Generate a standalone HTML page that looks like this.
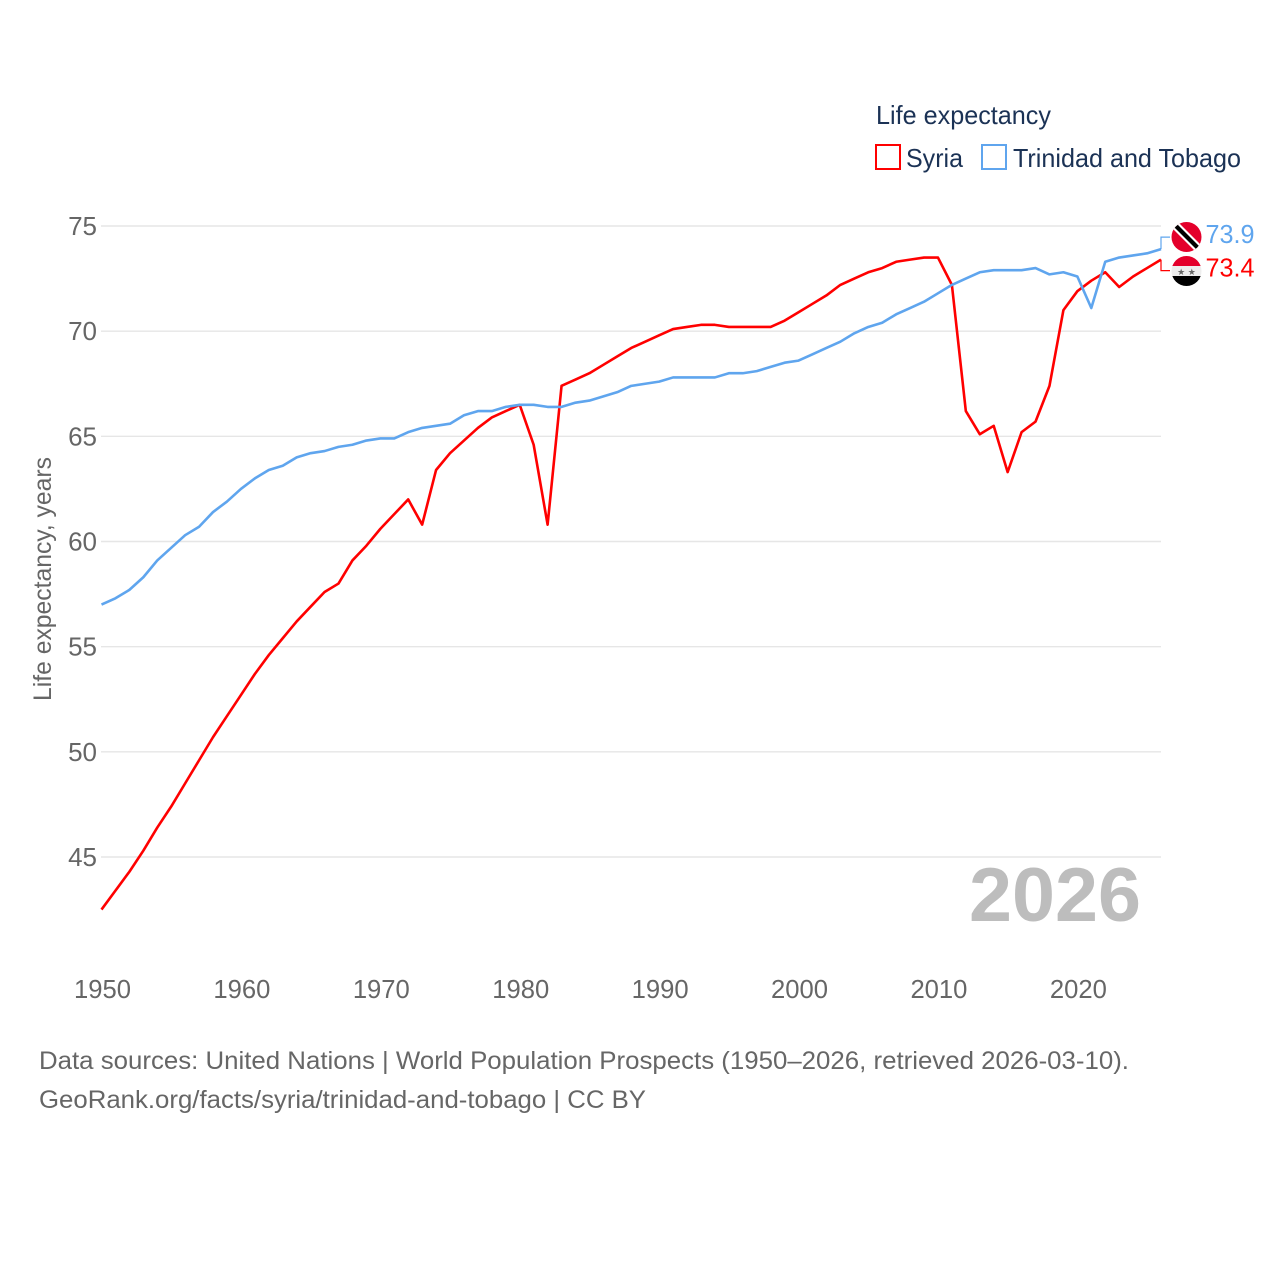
<!DOCTYPE html>
<html lang="en">
<head>
<meta charset="utf-8">
<title>Life expectancy: Syria and Trinidad and Tobago</title>
<style>
html,body{margin:0;padding:0;background:#fff;width:1280px;height:1280px;overflow:hidden}
svg{display:block}
text{font-family:"Liberation Sans",sans-serif}
</style>
</head>
<body>
<svg id="chart" xmlns="http://www.w3.org/2000/svg" width="1280" height="1280" viewBox="0 0 1280 1280">
  <defs>
    <clipPath id="tt-clip"><circle cx="1186.5" cy="237" r="15"/></clipPath>
    <clipPath id="sy-clip"><circle cx="1186.5" cy="271" r="15"/></clipPath>
  </defs>
  <g id="grid"></g>
  <g id="ytick-labels"></g>
  <g id="xtick-labels"></g>
  <text transform="translate(51,701) rotate(-90)" font-size="25" fill="#666" textLength="244" lengthAdjust="spacingAndGlyphs">Life expectancy, years</text>
  <text x="969" y="921" font-size="76" font-weight="bold" fill="#bdbdbd" textLength="172" lengthAdjust="spacingAndGlyphs">2026</text>
  <g id="series"></g>
  <g>
    <text x="876" y="124" font-size="26" fill="#1b3255" textLength="175" lengthAdjust="spacingAndGlyphs">Life expectancy</text>
    <g>
      <rect x="876" y="145" width="24" height="24" fill="#fff" stroke="#ff0000" stroke-width="2"/>
      <text x="906" y="167" font-size="26" fill="#1b3255" textLength="57" lengthAdjust="spacingAndGlyphs">Syria</text>
    </g>
    <g>
      <rect x="982" y="145" width="24" height="24" fill="#fff" stroke="#5fa5ee" stroke-width="2"/>
      <text x="1013" y="167" font-size="26" fill="#1b3255" textLength="228" lengthAdjust="spacingAndGlyphs">Trinidad and Tobago</text>
    </g>
  </g>
  <g clip-path="url(#tt-clip)">
    <rect x="1171" y="222" width="31" height="30" fill="#e4002b"/>
    <polygon points="1170,226 1176,220 1204,248 1198,254" fill="#fff"/>
    <polygon points="1172,225 1175,222 1202,249 1199,252" fill="#000"/>
  </g>
  <g clip-path="url(#sy-clip)">
    <rect x="1171" y="256" width="31" height="10" fill="#e4002b"/>
    <rect x="1171" y="266" width="31" height="10" fill="#eeeeee"/>
    <rect x="1171" y="276" width="31" height="10" fill="#000"/>
    <text x="1186.5" y="275" font-size="9" text-anchor="middle" fill="#666">★ ★</text>
  </g>
  <g id="end-labels"></g>
  <text x="39" y="1069" font-size="25" fill="#666" textLength="1090" lengthAdjust="spacingAndGlyphs">Data sources: United Nations | World Population Prospects (1950–2026, retrieved 2026-03-10).</text>
  <text x="39" y="1108" font-size="25" fill="#666" textLength="607" lengthAdjust="spacingAndGlyphs">GeoRank.org/facts/syria/trinidad-and-tobago | CC BY</text>
</svg>
<script>
const startYear = 1950;
const syriaValues = [42.5,43.4,44.3,45.3,46.4,47.4,48.5,49.6,50.7,51.7,52.7,53.7,54.6,55.4,56.2,56.9,57.6,58.0,59.1,59.8,60.6,61.3,62.0,60.8,63.4,64.2,64.8,65.4,65.9,66.2,66.5,64.6,60.8,67.4,67.7,68.0,68.4,68.8,69.2,69.5,69.8,70.1,70.2,70.3,70.3,70.2,70.2,70.2,70.2,70.5,70.9,71.3,71.7,72.2,72.5,72.8,73.0,73.3,73.4,73.5,73.5,72.2,66.2,65.1,65.5,63.3,65.2,65.7,67.4,71.0,71.9,72.4,72.8,72.1,72.6,73.0,73.4];
const trinidadValues = [57.0,57.3,57.7,58.3,59.1,59.7,60.3,60.7,61.4,61.9,62.5,63.0,63.4,63.6,64.0,64.2,64.3,64.5,64.6,64.8,64.9,64.9,65.2,65.4,65.5,65.6,66.0,66.2,66.2,66.4,66.5,66.5,66.4,66.4,66.6,66.7,66.9,67.1,67.4,67.5,67.6,67.8,67.8,67.8,67.8,68.0,68.0,68.1,68.3,68.5,68.6,68.9,69.2,69.5,69.9,70.2,70.4,70.8,71.1,71.4,71.8,72.2,72.5,72.8,72.9,72.9,72.9,73.0,72.7,72.8,72.6,71.1,73.3,73.5,73.6,73.7,73.9];
const yTickLabels = [45,50,55,60,65,70,75];
const xTickLabels = [1950,1960,1970,1980,1990,2000,2010,2020];

const NS = 'http://www.w3.org/2000/svg';
const xScale = year => 101.5 + (year - 1950) * (1161 - 101.5) / 76;
const yScale = value => 226 + (75 - value) * (857 - 226) / 30;
function make(tag, attrs, parent, content) {
  const el = document.createElementNS(NS, tag);
  for (const k in attrs) el.setAttribute(k, attrs[k]);
  if (content !== undefined) el.textContent = content;
  parent.appendChild(el);
  return el;
}
const grid = document.getElementById('grid');
const yLabels = document.getElementById('ytick-labels');
const xLabels = document.getElementById('xtick-labels');
const seriesGroup = document.getElementById('series');
const endLabels = document.getElementById('end-labels');

yTickLabels.forEach(tick => {
  const line = make('line', {x1:101, x2:1161, y1:yScale(tick), y2:yScale(tick), stroke:'#e6e6e6', 'stroke-width':1.4}, grid);
  
  
  const label = make('text', {x:97, y:yScale(tick) + 9, 'font-size':26, 'text-anchor':'end', fill:'#666'}, yLabels, String(tick));
  
  
});
xTickLabels.forEach(tick => {
  const label = make('text', {x:xScale(tick) + 1, y:998, 'font-size':26, 'text-anchor':'middle', fill:'#666', textLength:57, lengthAdjust:'spacingAndGlyphs'}, xLabels, String(tick));
  
  
});
function pathFor(values) {
  return values.map((v, i) => (i ? 'L' : 'M') + xScale(startYear + i).toFixed(2) + ' ' + yScale(v).toFixed(2)).join(' ');
}
const syriaLine = make('path', {d:pathFor(syriaValues), fill:'none', stroke:'#ff0000', 'stroke-width':2.6, 'stroke-linejoin':'round'}, seriesGroup);


const trinidadLine = make('path', {d:pathFor(trinidadValues), fill:'none', stroke:'#5fa5ee', 'stroke-width':2.6, 'stroke-linejoin':'round'}, seriesGroup);



const lastYear = startYear + syriaValues.length - 1;
const lastTT = trinidadValues[trinidadValues.length - 1];
const lastSY = syriaValues[syriaValues.length - 1];
const ttY = yScale(lastTT);
const syY = yScale(lastSY);
const endX = xScale(lastYear);
const ttConnector = make('path', {d:`M${endX} ${ttY} V${ttY - 12} H${endX + 9}`, fill:'none', stroke:'#5fa5ee', 'stroke-width':1.2}, seriesGroup);


const syConnector = make('path', {d:`M${endX} ${syY} V${syY + 11} H${endX + 9}`, fill:'none', stroke:'#ff0000', 'stroke-width':1.2}, seriesGroup);


const ttLabel = make('text', {x:1205.5, y:ttY - 6, 'font-size':26, fill:'#5fa5ee', textLength:49, lengthAdjust:'spacingAndGlyphs'}, endLabels, lastTT.toFixed(1));


const syLabel = make('text', {x:1205.5, y:syY + 17, 'font-size':26, fill:'#ff0000', textLength:49, lengthAdjust:'spacingAndGlyphs'}, endLabels, lastSY.toFixed(1));


</script>
</body>
</html>
